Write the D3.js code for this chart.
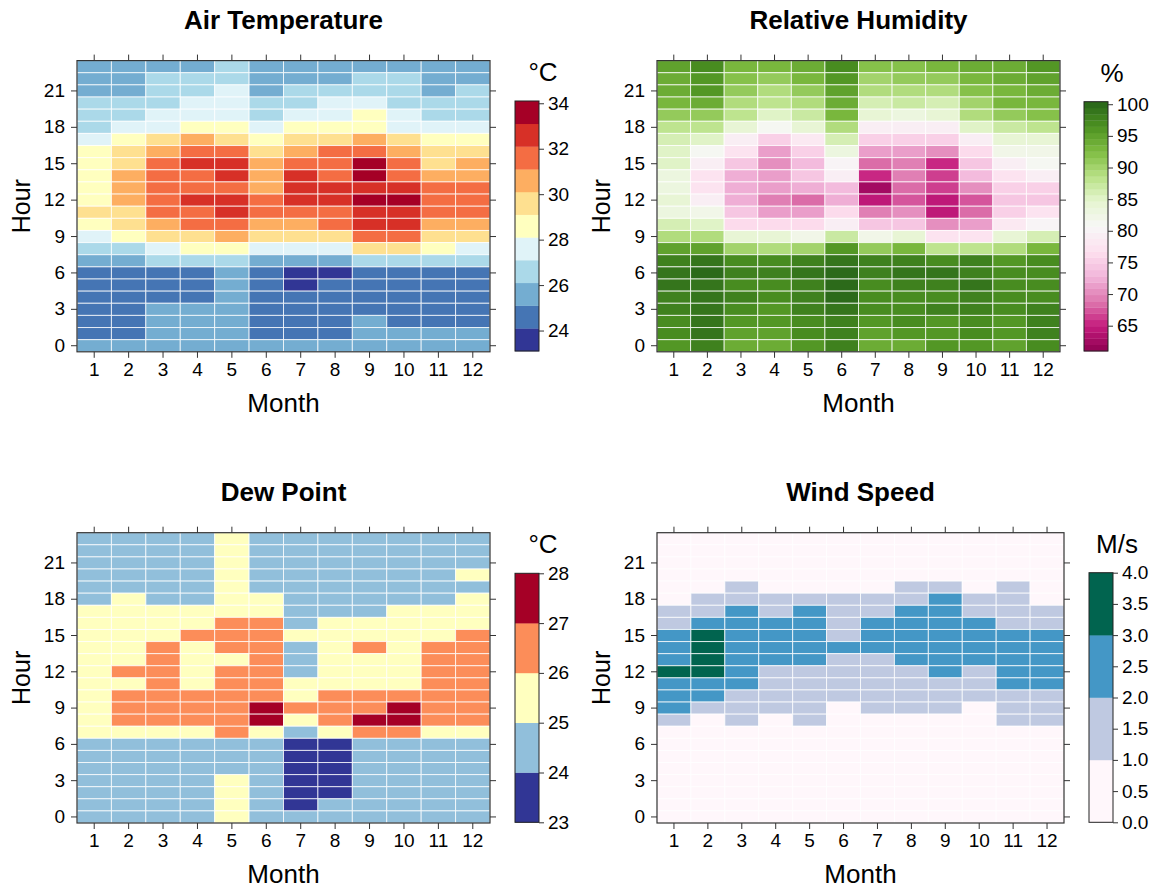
<!DOCTYPE html>
<html>
<head>
<meta charset="utf-8">
<script src="https://cdn.jsdelivr.net/npm/d3@7"></script>
<style>
  body { margin: 0; background: #fff; }
  svg { font-family: "Liberation Sans", Arial, sans-serif; }
  .axis path { display: none; }
  .axis line { stroke: #333; }
  .axis text { font-size: 19px; fill: #000; }
</style>
</head>
<body>
<svg id="chart" width="1154" height="888"></svg>
<script>
const months = [1, 2, 3, 4, 5, 6, 7, 8, 9, 10, 11, 12];
const hours = [0, 1, 2, 3, 4, 5, 6, 7, 8, 9, 10, 11, 12, 13, 14, 15, 16, 17, 18, 19, 20, 21, 22, 23];
const hourTicks = [0, 3, 6, 9, 12, 15, 18, 21];

// rows run from hour 23 (first) down to hour 0 (last), one value per month
const airTemp = [
  [25.6,25.6,25.6,25.6,26.6,25.6,25.6,25.6,25.6,25.6,25.6,25.6],
  [25.6,25.6,26.6,26.6,26.6,25.6,25.6,25.6,26.6,26.6,25.6,25.6],
  [25.6,25.6,26.6,26.6,27.6,25.6,26.6,26.6,26.6,26.6,25.6,26.6],
  [26.6,26.6,26.6,27.6,27.6,26.6,26.6,27.6,27.6,26.6,26.6,26.6],
  [26.6,26.6,27.6,27.6,27.6,26.6,27.6,27.6,28.6,27.6,26.6,26.6],
  [26.6,27.6,27.6,28.6,28.6,27.6,28.6,28.6,28.6,27.6,27.6,27.6],
  [27.6,28.6,29.6,30.6,29.6,28.6,29.6,29.6,30.6,29.6,28.6,28.6],
  [28.6,29.6,30.6,31.6,31.6,29.6,30.6,31.6,31.6,30.6,29.6,29.6],
  [28.6,29.6,31.6,32.6,32.6,30.6,31.6,31.6,33.6,31.6,29.6,30.6],
  [28.6,30.6,31.6,31.6,32.6,30.6,32.6,31.6,33.6,31.6,30.6,30.6],
  [28.6,30.6,31.6,31.6,31.6,30.6,32.6,32.6,32.6,32.6,31.6,31.6],
  [28.6,30.6,31.6,32.6,32.6,31.6,32.6,32.6,33.6,33.6,31.6,31.6],
  [29.6,29.6,31.6,31.6,32.6,31.6,31.6,31.6,32.6,32.6,31.6,31.6],
  [28.6,29.6,30.6,31.6,31.6,30.6,30.6,31.6,32.6,32.6,30.6,30.6],
  [27.6,28.6,29.6,29.6,30.6,29.6,29.6,29.6,31.6,31.6,29.6,29.6],
  [26.6,26.6,27.6,28.6,28.6,27.6,27.6,27.6,29.6,29.6,28.6,27.6],
  [25.6,25.6,26.6,26.6,26.6,25.6,25.6,25.6,26.6,26.6,26.6,26.6],
  [24.6,24.6,24.6,24.6,25.6,24.6,23.6,23.6,24.6,24.6,24.6,24.6],
  [24.6,24.6,24.6,24.6,25.6,24.6,23.6,24.6,24.6,24.6,24.6,24.6],
  [24.6,24.6,24.6,24.6,25.6,24.6,24.6,24.6,24.6,24.6,24.6,24.6],
  [24.6,24.6,25.6,25.6,25.6,24.6,24.6,24.6,24.6,24.6,24.6,24.6],
  [24.6,24.6,25.6,25.6,25.6,24.6,24.6,24.6,25.6,24.6,24.6,24.6],
  [24.6,24.6,25.6,25.6,25.6,24.6,24.6,24.6,25.6,25.6,25.6,25.6],
  [25.6,25.6,25.6,25.6,25.6,25.6,25.6,25.6,25.6,25.6,25.6,25.6]
];

const relHumidity = [
  [95,97,93,93,94,97,92,92,93,94,94,96],
  [94,96,92,91,93,96,90,91,91,93,94,95],
  [94,96,91,89,91,95,89,89,89,92,93,94],
  [93,94,89,88,89,94,86,87,86,90,93,93],
  [91,91,88,85,87,93,84,83,84,89,91,92],
  [88,88,84,81,84,89,79,79,79,85,87,88],
  [86,85,79,75,78,86,75,75,75,79,84,84],
  [85,81,77,71,75,83,71,71,70,76,82,82],
  [85,79,74,70,73,80,68,69,65,74,79,81],
  [83,77,72,71,74,79,65,69,66,73,77,79],
  [83,77,72,71,72,73,62,68,66,70,75,75],
  [84,79,72,69,68,72,64,67,64,67,74,74],
  [83,82,74,71,71,76,69,70,64,68,75,77],
  [86,85,76,76,76,79,74,74,70,71,78,80],
  [89,89,84,84,82,87,82,84,77,77,84,86],
  [95,95,90,89,90,96,91,93,88,88,89,93],
  [98,99,97,97,98,99,98,98,97,98,96,97],
  [99,99.5,98,98,99,99.5,98,99,99,98,97,97],
  [99,99,97,97,98,99.5,97,98,98,99,97,97],
  [98,99,98,97,98,100,97,97,97,98,97,97],
  [98,99,97,96,98,99,97,97,98,98,97,98],
  [97,99,96,96,97,98,96,97,96,97,96,98],
  [97,99,95,95,97,98,95,96,96,97,96,98],
  [96,98,94,94,96,98,94,94,96,96,95,97]
];

const dewPoint = [
  [24.5,24.5,24.5,24.5,25.5,24.5,24.5,24.5,24.5,24.5,24.5,24.5],
  [24.5,24.5,24.5,24.5,25.5,24.5,24.5,24.5,24.5,24.5,24.5,24.5],
  [24.5,24.5,24.5,24.5,25.5,24.5,24.5,24.5,24.5,24.5,24.5,24.5],
  [24.5,24.5,24.5,24.5,25.5,24.5,24.5,24.5,24.5,24.5,24.5,25.5],
  [24.5,24.5,24.5,24.5,25.5,24.5,24.5,24.5,24.5,24.5,24.5,24.5],
  [24.5,25.5,24.5,24.5,25.5,25.5,24.5,24.5,24.5,24.5,24.5,25.5],
  [25.5,25.5,25.5,25.5,25.5,25.5,24.5,24.5,24.5,25.5,25.5,25.5],
  [25.5,25.5,25.5,25.5,26.5,26.5,24.5,25.5,25.5,25.5,25.5,25.5],
  [25.5,25.5,25.5,26.5,26.5,26.5,25.5,25.5,25.5,25.5,25.5,26.5],
  [25.5,25.5,26.5,25.5,26.5,26.5,24.5,25.5,26.5,25.5,26.5,26.5],
  [25.5,25.5,26.5,25.5,25.5,26.5,24.5,25.5,25.5,25.5,26.5,26.5],
  [25.5,26.5,26.5,25.5,26.5,26.5,24.5,25.5,25.5,25.5,26.5,26.5],
  [25.5,25.5,26.5,25.5,26.5,26.5,25.5,25.5,25.5,25.5,26.5,26.5],
  [25.5,26.5,26.5,26.5,26.5,26.5,25.5,26.5,26.5,26.5,26.5,26.5],
  [25.5,26.5,26.5,26.5,26.5,27.5,26.5,26.5,26.5,27.5,26.5,26.5],
  [25.5,26.5,26.5,26.5,26.5,27.5,25.5,26.5,27.5,27.5,26.5,26.5],
  [25.5,25.5,25.5,25.5,26.5,25.5,24.5,25.5,26.5,26.5,25.5,25.5],
  [24.5,24.5,24.5,24.5,24.5,24.5,23.5,23.5,24.5,24.5,24.5,24.5],
  [24.5,24.5,24.5,24.5,24.5,24.5,23.5,23.5,24.5,24.5,24.5,24.5],
  [24.5,24.5,24.5,24.5,24.5,24.5,23.5,23.5,24.5,24.5,24.5,24.5],
  [24.5,24.5,24.5,24.5,25.5,24.5,23.5,23.5,24.5,24.5,24.5,24.5],
  [24.5,24.5,24.5,24.5,25.5,24.5,23.5,23.5,24.5,24.5,24.5,24.5],
  [24.5,24.5,24.5,24.5,25.5,24.5,23.5,24.5,24.5,24.5,24.5,24.5],
  [24.5,24.5,24.5,24.5,25.5,24.5,24.5,24.5,24.5,24.5,24.5,24.5]
];

const windSpeed = [
  [0.6,0.6,0.6,0.6,0.6,0.6,0.6,0.6,0.6,0.6,0.6,0.6],
  [0.6,0.6,0.6,0.6,0.6,0.6,0.6,0.6,0.6,0.6,0.6,0.6],
  [0.6,0.6,0.6,0.6,0.6,0.6,0.6,0.6,0.6,0.6,0.6,0.6],
  [0.6,0.6,0.6,0.6,0.6,0.6,0.6,0.6,0.6,0.6,0.6,0.6],
  [0.6,0.6,1.5,0.6,0.6,0.6,0.6,1.5,1.5,0.6,1.5,0.6],
  [0.6,1.5,1.5,1.5,1.5,1.5,1.5,1.5,2.4,1.5,1.5,0.6],
  [1.5,1.5,2.4,1.5,2.4,1.5,1.5,2.4,2.4,1.5,1.5,1.5],
  [1.5,2.4,2.4,2.4,2.4,1.5,2.4,2.4,2.4,2.4,1.5,1.5],
  [2.4,3.2,2.4,2.4,2.4,1.5,2.4,2.4,2.4,2.4,2.4,2.4],
  [2.4,3.2,2.4,2.4,2.4,2.4,2.4,2.4,2.4,2.4,2.4,2.4],
  [2.4,3.2,2.4,2.4,2.4,1.5,1.5,2.4,2.4,2.4,2.4,2.4],
  [3.2,3.2,2.4,1.5,1.5,1.5,1.5,1.5,2.4,1.5,2.4,2.4],
  [2.4,2.4,2.4,1.5,1.5,1.5,1.5,1.5,1.5,1.5,2.4,2.4],
  [2.4,2.4,1.5,1.5,1.5,1.5,1.5,1.5,1.5,1.5,1.5,1.5],
  [2.4,1.5,1.5,1.5,1.5,0.6,1.5,1.5,1.5,0.6,1.5,1.5],
  [1.5,0.6,1.5,0.6,1.5,0.6,0.6,0.6,0.6,0.6,1.5,1.5],
  [0.6,0.6,0.6,0.6,0.6,0.6,0.6,0.6,0.6,0.6,0.6,0.6],
  [0.6,0.6,0.6,0.6,0.6,0.6,0.6,0.6,0.6,0.6,0.6,0.6],
  [0.6,0.6,0.6,0.6,0.6,0.6,0.6,0.6,0.6,0.6,0.6,0.6],
  [0.6,0.6,0.6,0.6,0.6,0.6,0.6,0.6,0.6,0.6,0.6,0.6],
  [0.6,0.6,0.6,0.6,0.6,0.6,0.6,0.6,0.6,0.6,0.6,0.6],
  [0.6,0.6,0.6,0.6,0.6,0.6,0.6,0.6,0.6,0.6,0.6,0.6],
  [0.6,0.6,0.6,0.6,0.6,0.6,0.6,0.6,0.6,0.6,0.6,0.6],
  [0.6,0.6,0.6,0.6,0.6,0.6,0.6,0.6,0.6,0.6,0.6,0.6]
];

const tempTicks = [24, 26, 28, 30, 32, 34];
const rhTicks = [65, 70, 75, 80, 85, 90, 95, 100];
const dewTicks = [23, 24, 25, 26, 27, 28];
const windTicks = [0, 0.5, 1, 1.5, 2, 2.5, 3, 3.5, 4];

const rdylbu11 = ["#313695","#4575b4","#74add1","#abd9e9","#e0f3f8","#ffffbf","#fee090","#fdae61","#f46d43","#d73027","#a50026"];
const piyg11 = ["#8e0152","#c51b7d","#de77ae","#f1b6da","#fde0ef","#f7f7f7","#e6f5d0","#b8e186","#7fbc41","#4d9221","#276419"];
const dewColors = ["#313695","#91bfdb","#ffffbf","#fc8d59","#a50026"];
const windColors = ["#fff7fb","#bfc9e1","#4497c6","#01644f"];

// breaks of the binned colour keys
function makeBreaks(lo, hi, n) {
  return d3.range(n + 1).map(i => lo + (hi - lo) * i / n);
}
const rhRamp = d3.piecewise(d3.interpolateRgb, piyg11);
const rhBreaks = makeBreaks(61, 100.4, 40);

const panels = [
  { title: "Air Temperature", data: airTemp, unit: "°C",
    x0: 77, x1: 490, y0: 60.6, y1: 351.8,
    lx: 515, ly0: 101, ly1: 351,
    breaks: makeBreaks(23.1, 34.1, 11), colors: rdylbu11, ticks: tempTicks, fmt: d3.format("d") },
  { title: "Relative Humidity", data: relHumidity, unit: "%",
    x0: 657, x1: 1060, y0: 60.6, y1: 351.8,
    lx: 1084, ly0: 101.7, ly1: 351,
    breaks: rhBreaks, colors: d3.range(40).map(i => rhRamp((i + 0.5) / 40)), ticks: rhTicks, fmt: d3.format("d") },
  { title: "Dew Point", data: dewPoint, unit: "°C",
    x0: 77, x1: 490, y0: 532.7, y1: 823,
    lx: 515, ly0: 573.3, ly1: 822.3,
    breaks: makeBreaks(23, 28, 5), colors: dewColors, ticks: dewTicks, fmt: d3.format("d") },
  { title: "Wind Speed", data: windSpeed, unit: "M/s",
    x0: 657, x1: 1064, y0: 532.7, y1: 823,
    lx: 1089, ly0: 572.7, ly1: 822.3,
    breaks: makeBreaks(0, 4, 4), colors: windColors, ticks: windTicks, fmt: d3.format(".1f") }
];

const svg = d3.select("#chart");

panels.forEach(p => {
  const g = svg.append("g");

  var x = d3.scaleBand().domain(months).range([p.x0, p.x1]);
  var y = d3.scaleBand().domain(hours).range([p.y1, p.y0]);
  var color = d3.scaleThreshold()
    .domain(p.breaks.slice(1, -1))
    .range(p.colors);

  const cells = p.data.flatMap((row, i) =>
    row.map((v, j) => ({ hour: 23 - i, month: months[j], value: v })));

  g.selectAll("rect.cell")
    .data(cells)
    .enter().append("rect")
    .attr("class", "cell")
    .attr("x", d => x(d.month))
    .attr("y", d => y(d.hour))
    .attr("width", x.bandwidth())
    .attr("height", y.bandwidth())
    .attr("fill", d => color(d.value))
    .attr("stroke", "#fff")
    .attr("stroke-opacity", 0.75)
    .attr("stroke-width", 1);

  // frame
  g.append("rect")
    .attr("x", p.x0).attr("y", p.y0)
    .attr("width", p.x1 - p.x0).attr("height", p.y1 - p.y0)
    .attr("fill", "none").attr("stroke", "#333").attr("stroke-width", 1.2);

  g.append("g").attr("class", "axis")
    .attr("transform", "translate(0," + p.y1 + ")")
    .call(d3.axisBottom(x).tickSize(6).tickPadding(5));
  g.append("g").attr("class", "axis")
    .attr("transform", "translate(0," + p.y0 + ")")
    .call(d3.axisTop(x).tickSize(6).tickFormat(""));
  g.append("g").attr("class", "axis")
    .attr("transform", "translate(" + p.x0 + ",0)")
    .call(d3.axisLeft(y).tickValues(hourTicks).tickSize(6).tickPadding(6));
  g.append("g").attr("class", "axis")
    .attr("transform", "translate(" + p.x1 + ",0)")
    .call(d3.axisRight(y).tickValues(hourTicks).tickSize(6).tickFormat(""));

  const cx = (p.x0 + p.x1) / 2;
  g.append("text")
    .attr("x", cx).attr("y", p.y0 - 32)
    .attr("text-anchor", "middle")
    .style("font-size", "26px").style("font-weight", "bold")
    .text(p.title);
  g.append("text")
    .attr("x", cx).attr("y", p.y1 + 60)
    .attr("text-anchor", "middle")
    .style("font-size", "26px")
    .text("Month");
  g.append("text")
    .attr("transform", "translate(" + (p.x0 - 47) + "," + ((p.y0 + p.y1) / 2) + ") rotate(-90)")
    .attr("text-anchor", "middle")
    .style("font-size", "25px")
    .text("Hour");

  // colour key
  const lw = 24;
  var ls = d3.scaleLinear()
    .domain([p.breaks[0], p.breaks[p.breaks.length - 1]])
    .range([p.ly1, p.ly0]);
  const bands = p.colors.map((c, i) => ({ lo: p.breaks[i], hi: p.breaks[i + 1], c: c }));
  g.selectAll("rect.key")
    .data(bands)
    .enter().append("rect")
    .attr("class", "key")
    .attr("x", p.lx)
    .attr("y", d => ls(d.hi))
    .attr("width", lw)
    .attr("height", d => ls(d.lo) - ls(d.hi) + 0.3)
    .attr("fill", d => d.c);
  g.append("rect")
    .attr("x", p.lx).attr("y", p.ly0)
    .attr("width", lw).attr("height", p.ly1 - p.ly0)
    .attr("fill", "none").attr("stroke", "#222").attr("stroke-width", 1);
  g.append("g").attr("class", "axis")
    .attr("transform", "translate(" + (p.lx + lw) + ",0)")
    .call(d3.axisRight(ls).tickValues(p.ticks).tickFormat(p.fmt).tickSize(5).tickPadding(4));
  g.append("text")
    .attr("x", p.lx + lw + 4).attr("y", p.ly0 - 20)
    .attr("text-anchor", "middle")
    .style("font-size", "26px")
    .text(p.unit);
});
</script>
</body>
</html>
